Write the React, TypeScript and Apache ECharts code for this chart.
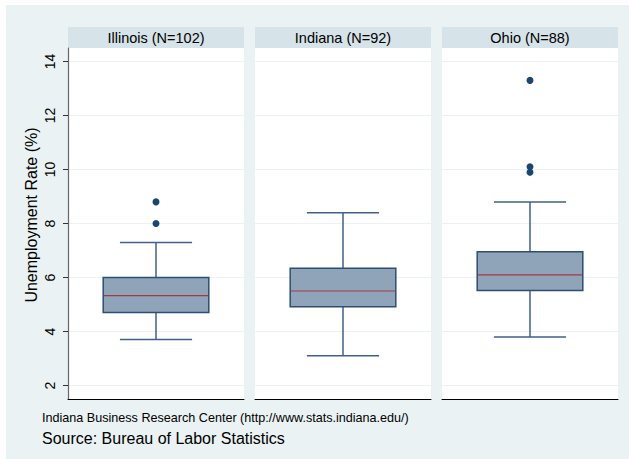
import React, { useEffect, useRef } from "react";
import * as echarts from "echarts";

const states = ["Illinois", "Indiana", "Ohio"];
const panelTitles = ["Illinois (N=102)", "Indiana (N=92)", "Ohio (N=88)"];
// [lower whisker, q1, median, q3, upper whisker]
const illinoisBox = [3.7, 4.7, 5.33, 6.0, 7.3];
const indianaBox = [3.1, 4.92, 5.5, 6.34, 8.4];
const ohioBox = [3.8, 5.52, 6.1, 6.95, 8.8];
const illinoisOutliers = [8.8, 8.0];
const indianaOutliers: number[] = [];
const ohioOutliers = [13.3, 10.1, 9.9];
const yTicks = [2, 4, 6, 8, 10, 12, 14];
const yTitle = "Unemployment Rate (%)";
const note1 = "Indiana Business Research Center (http://www.stats.indiana.edu/)";
const note2 = "Source: Bureau of Labor Statistics";

const boxes = [illinoisBox, indianaBox, ohioBox];
const outliers = [illinoisOutliers, indianaOutliers, ohioOutliers];

const FONT = "Liberation Sans, Arial, sans-serif";
const NAVY = "#1a476f";

export default function App() {
  const ref = useRef<HTMLDivElement>(null);
  useEffect(() => {
    if (!ref.current) return;
    const chart = echarts.init(ref.current, undefined, { renderer: "svg" });
    const lefts = [68, 255, 442];
    const width = 176;
    const top = 48;
    const height = 351;

    const grids = lefts.map((l) => ({ left: l, top, width, height, show: true, backgroundColor: "#ffffff", borderWidth: 0 }));
    const xAxes = states.map((s, i) => ({
      type: "category",
      gridIndex: i,
      data: [s],
      axisLine: { show: true, onZero: false, lineStyle: { color: "#000", width: 1 } },
      axisTick: { show: false },
      axisLabel: { show: false },
      splitLine: { show: false },
    }));
    const yAxes = states.map((s, i) => ({
      type: "value",
      gridIndex: i,
      min: 1.5,
      max: 14.5,
      splitNumber: 6,
      axisLine: { show: i === 0, lineStyle: { color: "#666", width: 1.2 } },
      axisTick: { show: i === 0, length: 5, customValues: yTicks, lineStyle: { color: "#333" } },
      axisLabel: {
        show: i === 0,
        customValues: yTicks,
        rotate: 90,
        margin: 11,
        fontFamily: FONT,
        fontSize: 14,
        color: "#000",
      },
      splitLine: { show: true, lineStyle: { color: "#eaf2f3", width: 1 } },
    }));

    const customSeries = boxes.map((b, i) => ({
      type: "custom",
      xAxisIndex: i,
      yAxisIndex: i,
      data: [[0, ...b]],
      encode: { x: 0, y: [1, 2, 3, 4, 5] },
      renderItem: (params: any, api: any) => {
        const cat = api.value(0);
        const xc = api.coord([cat, api.value(3)])[0];
        const band = api.size([1, 0])[0];
        const bw = band * 0.6;
        const cw = band * 0.41;
        const y = (k: number) => api.coord([cat, api.value(k)])[1];
        const yLow = y(1), yQ1 = y(2), yMed = y(3), yQ3 = y(4), yHigh = y(5);
        const wStyle = { stroke: "#3f618a", lineWidth: 1.5 };
        return {
          type: "group",
          children: [
            { type: "line", shape: { x1: xc, y1: yLow, x2: xc, y2: yQ1 }, style: wStyle },
            { type: "line", shape: { x1: xc, y1: yQ3, x2: xc, y2: yHigh }, style: wStyle },
            { type: "line", shape: { x1: xc - cw / 2, y1: yLow, x2: xc + cw / 2, y2: yLow }, style: wStyle },
            { type: "line", shape: { x1: xc - cw / 2, y1: yHigh, x2: xc + cw / 2, y2: yHigh }, style: wStyle },
            {
              type: "rect",
              shape: { x: xc - bw / 2, y: yQ3, width: bw, height: yQ1 - yQ3 },
              style: { fill: "#8fa4b8", stroke: "#2d4e73", lineWidth: 1.5 },
            },
            {
              type: "line",
              shape: { x1: xc - bw / 2 + 0.75, y1: yMed, x2: xc + bw / 2 - 0.75, y2: yMed },
              style: { stroke: "#a23a40", lineWidth: 1.2 },
            },
          ],
        };
      },
    }));

    const scatterSeries = outliers.map((o, i) => ({
      type: "scatter",
      xAxisIndex: i,
      yAxisIndex: i,
      data: o.map((v) => [0, v]),
      symbol: "circle",
      symbolSize: 7,
      itemStyle: { color: NAVY, opacity: 1 },
      z: 5,
    }));

    const headerGraphics: any[] = [];
    lefts.forEach((l, i) => {
      headerGraphics.push({
        type: "rect",
        shape: { x: l, y: 27, width, height: 21 },
        style: { fill: "#d6e3e8" },
      });
      headerGraphics.push({
        type: "text",
        x: l + width / 2,
        y: 38,
        style: {
          text: panelTitles[i],
          font: `14.5px ${FONT}`,
          fill: "#000",
          align: "center",
          verticalAlign: "middle",
        },
      });
    });

    chart.setOption({
      animation: false,
      backgroundColor: "#eaf2f3",
      grid: grids,
      xAxis: xAxes,
      yAxis: yAxes,
      series: [...customSeries, ...scatterSeries],
      graphic: [
        { type: "rect", shape: { x: 0, y: 0, width: 629, height: 5 }, style: { fill: "#fff" } },
        { type: "rect", shape: { x: 0, y: 0, width: 6, height: 459 }, style: { fill: "#fff" } },
        ...headerGraphics,
        {
          type: "text",
          x: 31,
          y: 215,
          rotation: Math.PI / 2,
          style: { text: yTitle, font: `16px ${FONT}`, fill: "#000", align: "center", verticalAlign: "middle" },
        },
        {
          type: "text",
          x: 42,
          y: 418,
          style: { text: note1, font: `12.6px ${FONT}`, fill: "#000", align: "left", verticalAlign: "middle" },
        },
        {
          type: "text",
          x: 42,
          y: 438,
          style: { text: note2, font: `16px ${FONT}`, fill: "#000", align: "left", verticalAlign: "middle" },
        },
      ],
    });
    return () => chart.dispose();
  }, []);
  return (
    <div
      ref={ref}
      style={{ position: "absolute", left: 0, top: 0, width: 629, height: 459 }}
    />
  );
}
